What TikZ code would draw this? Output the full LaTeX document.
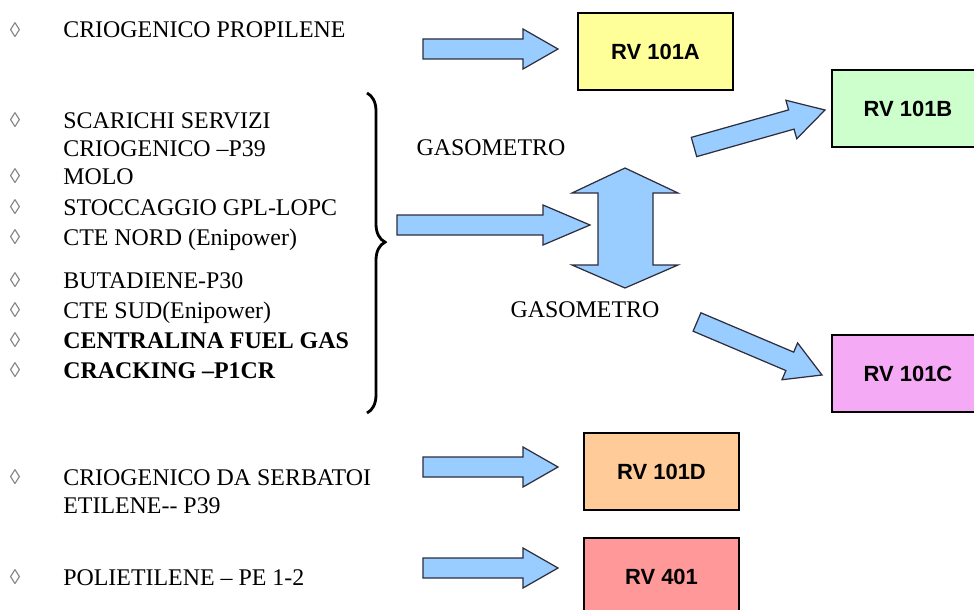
\documentclass[tikz,border=0pt]{standalone}
\usepackage{fontspec}
\setmainfont{Liberation Serif}
\newfontfamily\arialfont{Liberation Sans}
\usetikzlibrary{calc,decorations.pathreplacing}

\definecolor{freccia}{RGB}{153,204,255}
\definecolor{bordo}{RGB}{45,45,60}
\definecolor{giallo}{RGB}{255,255,153}
\definecolor{verde}{RGB}{204,255,204}
\definecolor{viola}{RGB}{244,170,244}
\definecolor{arancio}{RGB}{255,204,153}
\definecolor{rosso}{RGB}{255,153,153}

% freccia piena: coda, punta, lunghezza della testa
\newcommand{\blockarrow}[3]{%
  \coordinate (hb) at ($(#2)!#3!(#1)$);
  \filldraw[barrow] ($(#1)!2mm!90:(#2)$) -- ($(hb)!2mm!90:(#2)$)
    -- ($(hb)!4mm!90:(#2)$) -- (#2) -- ($(hb)!4mm!-90:(#2)$)
    -- ($(hb)!2mm!-90:(#2)$) -- ($(#1)!2mm!-90:(#2)$) -- cycle;
}

\begin{document}
\begin{tikzpicture}[x=0.2mm, y=-0.2mm,
  voce/.style={anchor=base west, inner sep=0pt, font=\fontsize{13.6}{16}\selectfont},
  punto/.style={anchor=center, inner sep=0pt, text=gray, font=\fontsize{12}{14}\selectfont},
  serbatoio/.style={draw=black, line width=1pt, minimum width=31mm, minimum height=15.4mm,
    font=\arialfont\fontsize{12.5}{15}\selectfont\bfseries},
  barrow/.style={fill=freccia, draw=bordo, line width=0.7pt, line join=miter}]

\useasboundingbox (0,0) rectangle (974,610);

% Elenco
\node[voce] (propilene) at (63,38) {CRIOGENICO PROPILENE};
\node[voce] (scarichi) at (63,128) {SCARICHI SERVIZI};
\node[voce] (criop) at (63,156) {CRIOGENICO –P39};
\node[voce] (molo) at (63,184) {MOLO};
\node[voce] (stoccaggio) at (63,215) {STOCCAGGIO GPL-LOPC};
\node[voce] (ctenord) at (63,245) {CTE NORD (Enipower)};
\node[voce] (butadiene) at (63,288) {BUTADIENE-P30};
\node[voce] (ctesud) at (63,318) {CTE SUD(Enipower)};
\node[voce, font=\fontsize{13.6}{16}\selectfont\bfseries] (centralina) at (63,348) {CENTRALINA FUEL GAS};
\node[voce, font=\fontsize{13.6}{16}\selectfont\bfseries] (cracking) at (63,378) {CRACKING –P1CR};
\node[voce] (serbatoi) at (63,485) {CRIOGENICO DA SERBATOI};
\node[voce] (etilene) at (63,513) {ETILENE-{}- P39};
\node[voce] (polietilene) at (63,585) {POLIETILENE – PE 1-2};

% Punti
\foreach \y/\n in {30/1,120/2,176/3,207/4,237/5,280/6,310/7,340/8,370/9,477/10,577/11}
  \node[punto] (p\n) at (15,\y) {◊};

% Parentesi
\draw[decorate, decoration={brace, amplitude=3.6mm, aspect=0.466}, line width=1.6pt]
  (367,93) -- (367,413);

% Gasometro
\node[voce, anchor=center] (gas1) at (491,148) {GASOMETRO};
\node[voce, anchor=center] (gas2) at (585,310) {GASOMETRO};
\filldraw[barrow] (625,168) -- (678,193) -- (653,193) -- (653,265) -- (678,265)
  -- (625,288) -- (572,265) -- (598,265) -- (598,193) -- (572,193) -- cycle;

% Serbatoi
\node[serbatoio, fill=giallo] (rvA) at (655.5,51.5) {RV 101A};
\node[serbatoio, fill=verde, minimum width=30.4mm] (rvB) at (908,108.5) {RV 101B};
\node[serbatoio, fill=viola, minimum width=30.4mm] (rvC) at (908,373.5) {RV 101C};
\node[serbatoio, fill=arancio] (rvD) at (661.5,471.5) {RV 101D};
\node[serbatoio, fill=rosso] (rvE) at (661.5,576.5) {RV 401};

% Frecce
\coordinate (codaA) at (423,49);
\coordinate (puntaA) at (558,49);
\coordinate (codaM) at (397,225);
\coordinate (puntaM) at (590,225);
\coordinate (codaB) at (694,147);
\coordinate (puntaB) at (825,110);
\coordinate (codaC) at (697,322);
\coordinate (puntaC) at (822,375);
\coordinate (codaD) at (423,467);
\coordinate (puntaD) at (558,467);
\coordinate (codaE) at (423,568);
\coordinate (puntaE) at (558,568);

\blockarrow{codaA}{puntaA}{7mm}
\blockarrow{codaM}{puntaM}{9.4mm}
\blockarrow{codaB}{puntaB}{7mm}
\blockarrow{codaC}{puntaC}{7mm}
\blockarrow{codaD}{puntaD}{7mm}
\blockarrow{codaE}{puntaE}{7mm}

\end{tikzpicture}
\end{document}
